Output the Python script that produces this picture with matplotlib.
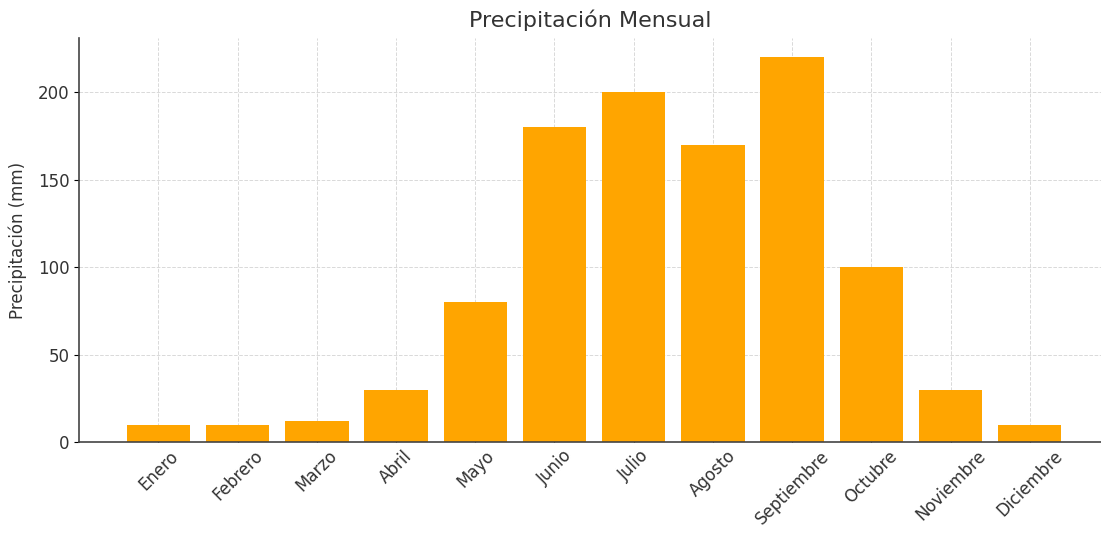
import matplotlib
matplotlib.use('Agg')
import matplotlib.pyplot as plt
import numpy as np

meses = ['Enero', 'Febrero', 'Marzo', 'Abril', 'Mayo', 'Junio', 'Julio',
         'Agosto', 'Septiembre', 'Octubre', 'Noviembre', 'Diciembre']
precipitacion = [10, 10, 12, 30, 80, 180, 200, 170, 220, 100, 30, 10]

fig = plt.figure(figsize=(11.01, 5.34), dpi=100)
ax = fig.add_axes([0.072, 0.172, 0.928, 0.757])

x = np.arange(len(meses))
ax.bar(x, precipitacion, width=0.8, color='orange', zorder=2)

ax.set_xticks(x)
ax.set_xticklabels(meses, rotation=45, fontsize=12, color='#333333')
ax.tick_params(axis='x', direction='in', length=4)
ax.tick_params(axis='y', labelsize=12, labelcolor='#333333')
ax.set_xlim(-1, 11.9)
ax.set_ylim(0, 231)

ax.set_title('Precipitación Mensual', fontsize=16, pad=8, color='#333333')
ax.set_ylabel('Precipitación (mm)', fontsize=12, color='#333333', labelpad=8)

ax.grid(True, linestyle='--', color='#d0d0d0', linewidth=0.7, alpha=0.8, zorder=0)
ax.set_axisbelow(True)
ax.spines['top'].set_visible(False)
ax.spines['right'].set_visible(False)
for s in ['left', 'bottom']:
    ax.spines[s].set_color('#444444')
    ax.spines[s].set_linewidth(1.2)

plt.savefig('out.png', dpi=100)
plt.close()
